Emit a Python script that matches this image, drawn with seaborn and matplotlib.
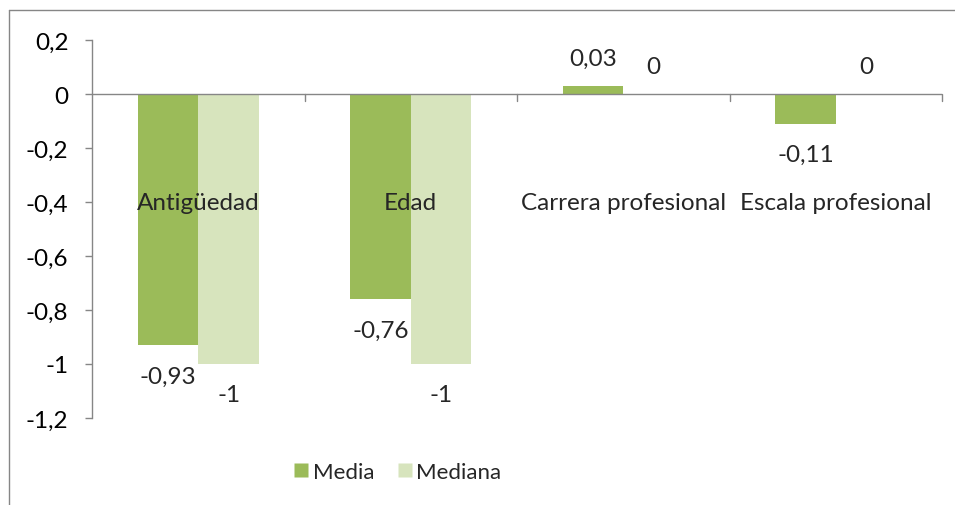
import matplotlib
matplotlib.use("Agg")
import matplotlib.pyplot as plt
import seaborn as sns
import pandas as pd
from matplotlib.ticker import FuncFormatter, MultipleLocator
from matplotlib.lines import Line2D

# data
categories = ["Antigüedad", "Edad", "Carrera profesional", "Escala profesional"]
media = [-0.93, -0.76, 0.03, -0.11]
mediana = [-1, -1, 0, 0]
series = ["Media", "Mediana"]
colors = {"Media": "#9BBB59", "Mediana": "#D7E4BD"}

df = pd.DataFrame({
    "categoria": categories * 2,
    "serie": ["Media"] * len(categories) + ["Mediana"] * len(categories),
    "valor": media + mediana,
})

sns.set_style("white")
plt.rcParams["font.family"] = ["Lato", "DejaVu Sans"]
axis_gray = "#868686"
fs = 17.5

fig = plt.figure(figsize=(9.55, 5.06), dpi=100)
ax = fig.add_axes([92 / 955, 1 - 419 / 506, 850 / 955, 378 / 506])

sns.barplot(data=df, x="categoria", y="valor", hue="serie", order=categories,
            hue_order=series, palette=colors, width=0.5714, gap=0,
            saturation=1, edgecolor="none", ax=ax, legend=False)

ax.set_xlim(-0.5, len(categories) - 0.5)
ax.set_ylim(-1.2, 0.2)
ax.yaxis.set_major_locator(MultipleLocator(0.2))
ax.yaxis.set_major_formatter(FuncFormatter(
    lambda v, _: "0" if abs(v) < 1e-9 else f"{v:.1f}".replace(".", ",").rstrip("0").rstrip(",")))
ax.set_xlabel("")
ax.set_ylabel("")
ax.set_xticks([])
ax.tick_params(axis="y", left=True, length=5, width=1, color=axis_gray, pad=12,
               labelsize=fs, labelcolor="black")

for s in ["top", "right", "bottom"]:
    ax.spines[s].set_visible(False)
ax.spines["left"].set_color(axis_gray)
ax.spines["left"].set_linewidth(1)

# horizontal axis at zero with category boundary ticks
ax.axhline(0, color=axis_gray, lw=1, zorder=3)
for b in [i + 0.5 for i in range(len(categories))]:
    ax.plot([b, b], [0, -0.026], color=axis_gray, lw=1, zorder=3, clip_on=False)

# category names placed at -0,4
for i, c in enumerate(categories):
    ax.text(i, -0.4, c, ha="center", va="center", fontsize=fs, zorder=4)

# data labels
def fmt(v):
    return "0" if v == 0 else f"{v:g}".replace(".", ",")

for patches, vals in zip(ax.containers, [media, mediana]):
    for p, v in zip(patches, vals):
        x = p.get_x() + p.get_width() / 2
        off = 28 if v >= 0 else -31
        ax.annotate(fmt(v), (x, v), xytext=(0, off), textcoords="offset pixels",
                    ha="center", va="center", fontsize=fs, annotation_clip=False)

handles = [Line2D([0], [0], marker="s", linestyle="none", markersize=9.5,
                  markerfacecolor=colors[s], markeredgecolor="none") for s in series]
fig.legend(handles, series, loc="center", bbox_to_anchor=(397 / 955, 1 - 473 / 506),
           ncol=2, frameon=False, fontsize=16, handletextpad=0.1, columnspacing=1.0,
           handlelength=0.8)

# chart area border (left and top visible)
fig.add_artist(Line2D([9 / 955, 9 / 955], [0, 1 - 11 / 506], color=axis_gray, lw=1))
fig.add_artist(Line2D([9 / 955, 1], [1 - 11 / 506, 1 - 11 / 506], color=axis_gray, lw=1))

fig.savefig("out.png", dpi=100)
